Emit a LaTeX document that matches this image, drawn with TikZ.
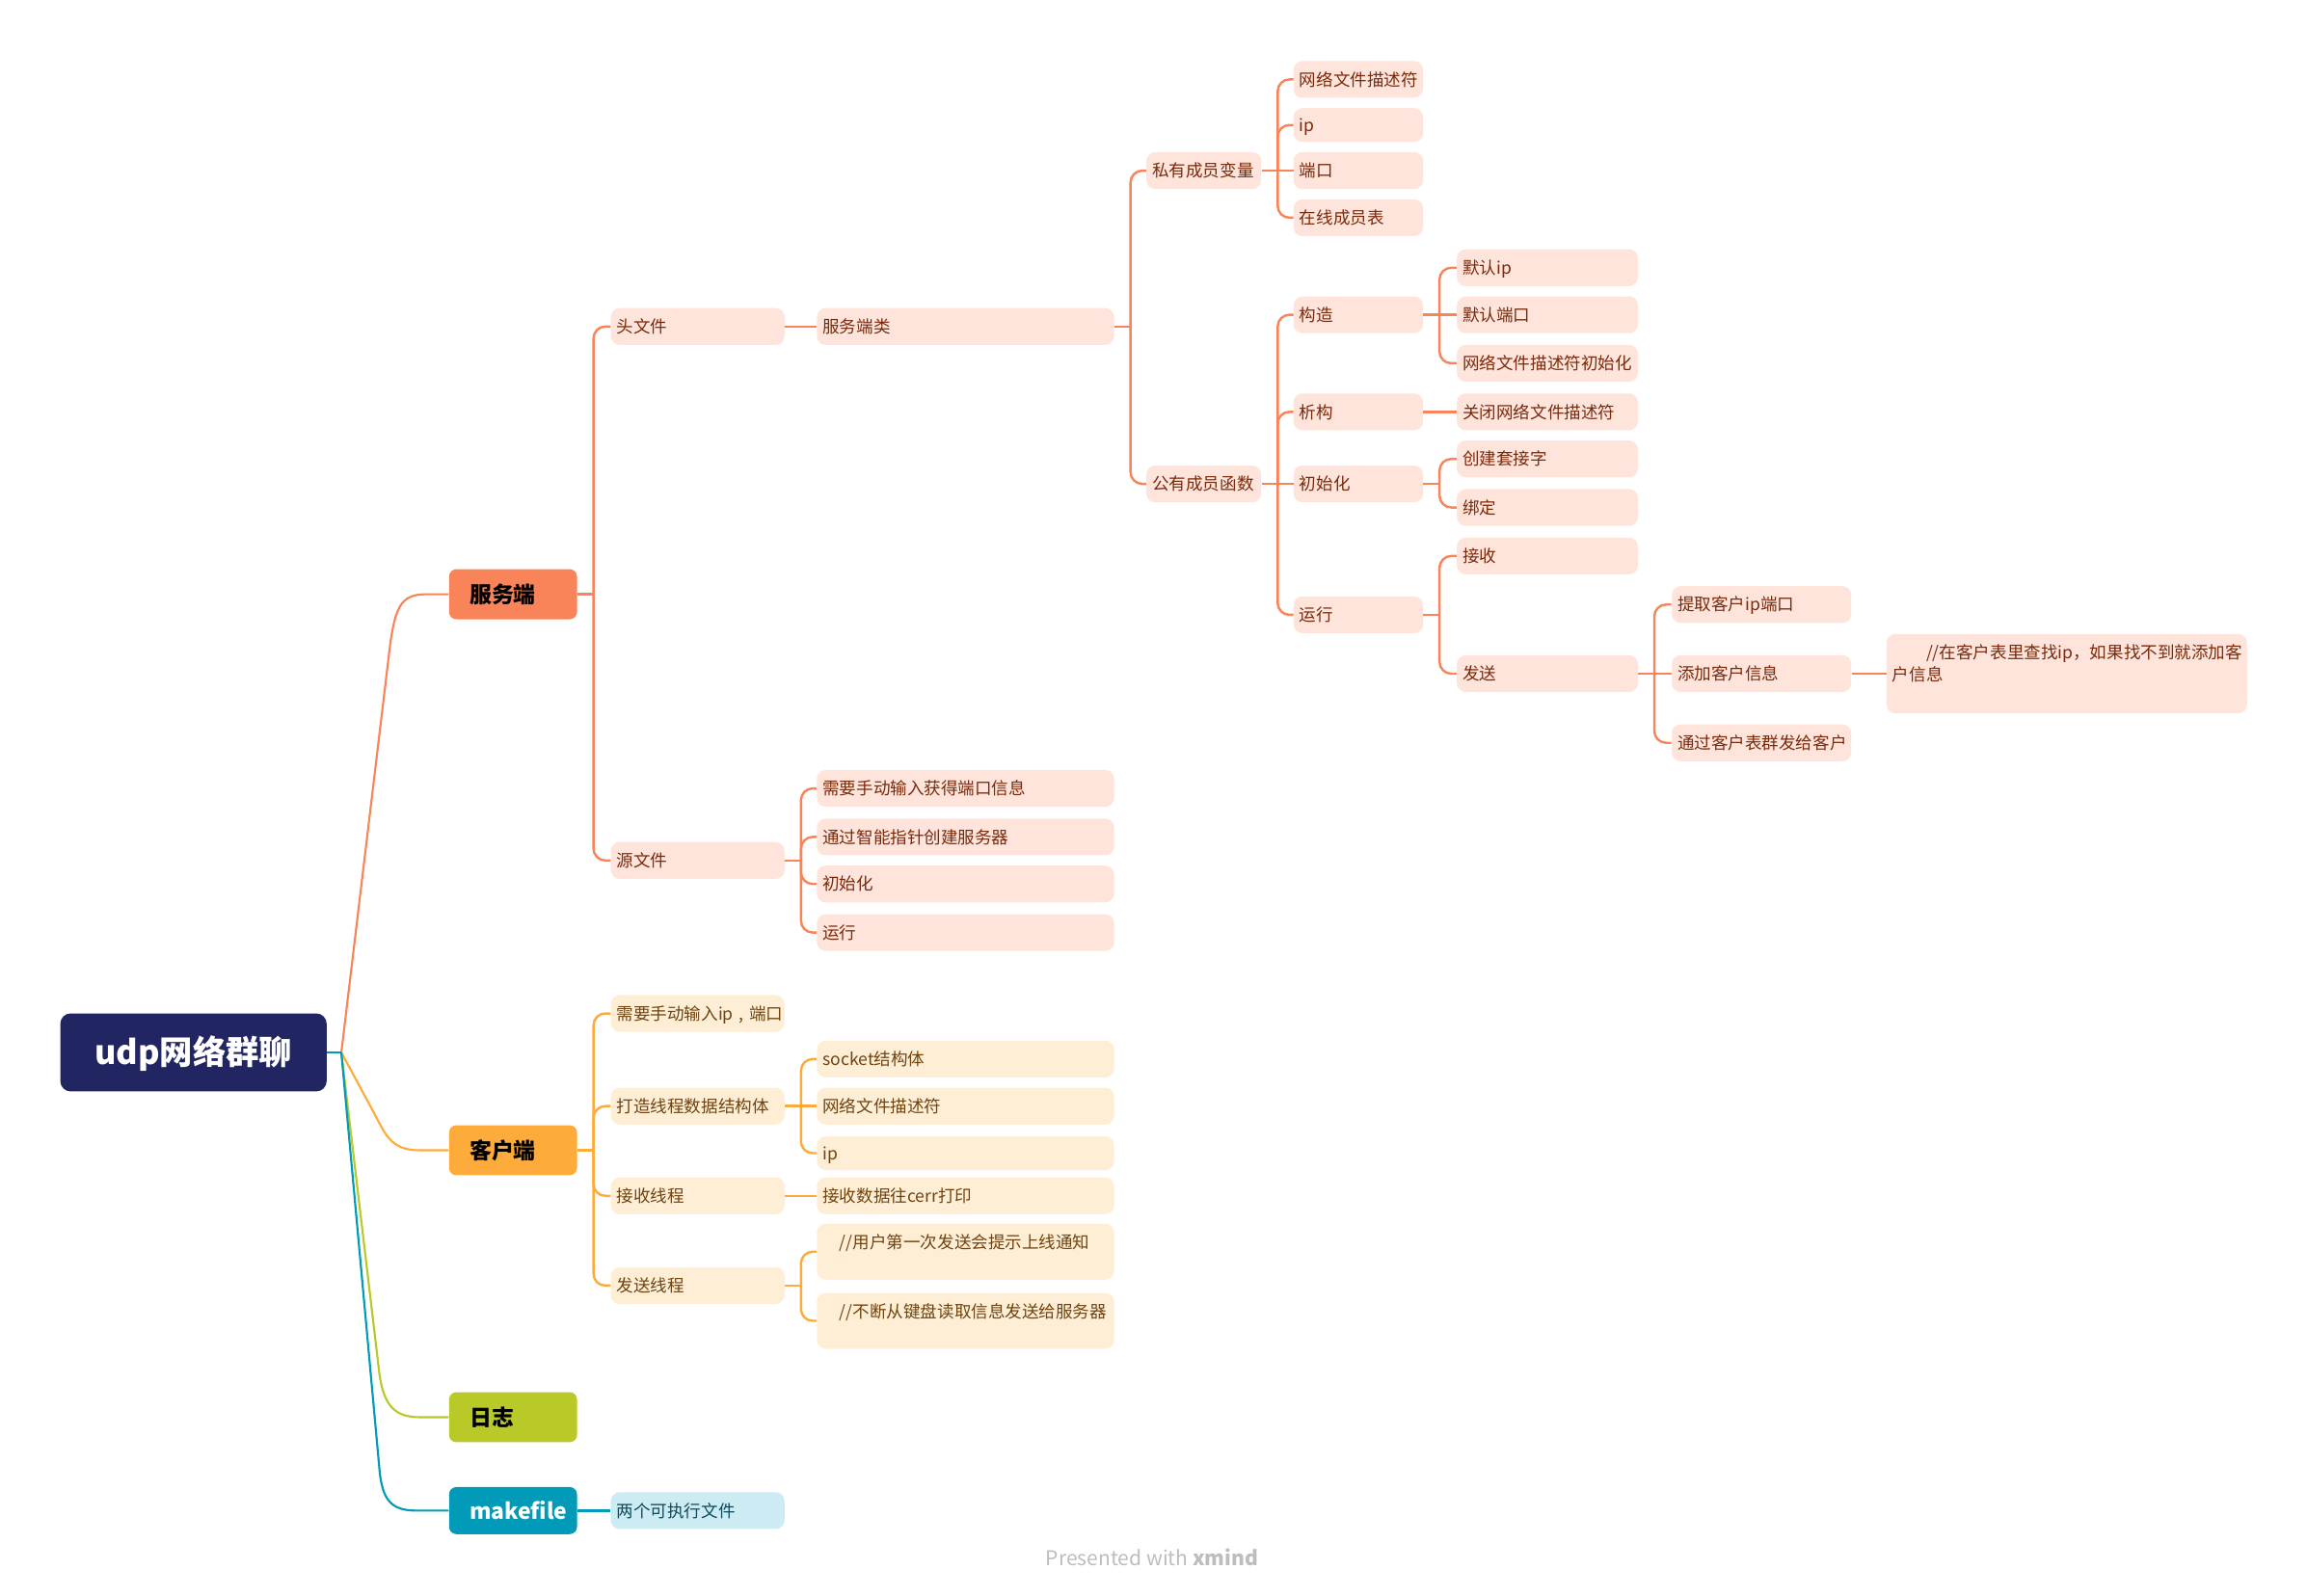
\documentclass[tikz,border=0pt]{standalone}
\usepackage{fontspec}
\setmainfont{Noto Sans CJK SC}
\usetikzlibrary{calc}
\definecolor{rootc}{HTML}{212562}
\definecolor{srv}{HTML}{F9845A}
\definecolor{cli}{HTML}{FDAB3B}
\definecolor{logc}{HTML}{B8C928}
\definecolor{mkc}{HTML}{019AB9}
\definecolor{srvfill}{HTML}{FEE4DA}
\definecolor{srvtext}{HTML}{7A2A0C}
\definecolor{clifill}{HTML}{FFEED6}
\definecolor{clitext}{HTML}{6E4410}
\definecolor{mkfill}{HTML}{CCEBF3}
\definecolor{mktext}{HTML}{0B4C5C}
\definecolor{wmark}{HTML}{BDBDBD}
\tikzset{
  leafbase/.style={anchor=west, rounded corners=6pt, inner xsep=4pt, inner ysep=0pt,
    minimum height=25pt, align=left, font=\fontsize{11.5}{15}\selectfont},
  leaf/.style={leafbase, text height=10pt, text depth=1.2pt},
  tw/.style={text width=#1},
  sl/.style={leaf, fill=srvfill, text=srvtext},
  cl/.style={leaf, fill=clifill, text=clitext},
  ml/.style={leaf, fill=mkfill, text=mktext},
  slbox/.style={leafbase, fill=srvfill, text=srvtext},
  clbox/.style={leafbase, fill=clifill, text=clitext},
  mainnode/.style={anchor=west, rounded corners=5pt, minimum height=34pt, inner xsep=14pt,
    inner ysep=0pt, text width=59pt, align=left, text height=13pt, text depth=1.6pt,
    font=\fontsize{15}{18}\bfseries\selectfont},
  rootnode/.style={fill=rootc, text=white, rounded corners=7pt, minimum width=181pt,
    minimum height=53pt, inner sep=0pt, text height=19pt, text depth=2pt,
    font=\fontsize{22.5}{27}\bfseries\selectfont},
  sline/.style={draw=srv, line width=1.6pt},
  cline/.style={draw=cli, line width=1.6pt},
  mline/.style={draw=mkc, line width=1.6pt},
  rlink/.style={line width=1.4pt},
}
\newcommand\mmstub[2]{\draw[#1] (#2.east) -- ++(11,0);}
\newcommand\mmlink[3]{\draw[#1, rounded corners=8pt] ($(#2.east)+(11,0)$) |- (#3.west);}
\newcommand\mmstraight[3]{\draw[#1] (#2.east) -- (#3.west);}
\begin{document}
\begin{tikzpicture}[x=1pt,y=-1pt]
\fill[white] (0,0) rectangle (1568,1085);
\useasboundingbox (0,0) rectangle (1568,1085);

% root and main branches
\node[rootnode] (root) at (131.5,715.5) {udp网络群聊};
\node[mainnode, fill=srv, text=black] (fws) at (305,404) {服务端};
\node[mainnode, fill=cli, text=black] (kh) at (305,782) {客户端};
\node[mainnode, fill=logc, text=black] (log) at (305,963.5) {日志};
\node[mainnode, fill=mkc, text=white, minimum height=32pt] (mk) at (305,1027) {makefile};

% server tree
\node[sl, tw=110pt] (h1) at (415,222) {头文件};
\node[sl, tw=110pt] (src) at (415,585) {源文件};
\node[sl, tw=194pt] (cls) at (555,222) {服务端类};
\node[sl, tw=194pt] (s1) at (555,536) {需要手动输入获得端口信息};
\node[sl, tw=194pt] (s2) at (555,569) {通过智能指针创建服务器};
\node[sl, tw=194pt] (s3) at (555,601) {初始化};
\node[sl, tw=194pt] (s4) at (555,634) {运行};
\node[sl, tw=70pt] (priv) at (779,116) {私有成员变量};
\node[sl, tw=70pt] (pub) at (779,329) {公有成员函数};
\node[sl, tw=80pt] (p1) at (879,54) {网络文件描述符};
\node[sl, tw=80pt, minimum height=23pt] (p2) at (879,85) {ip};
\node[sl, tw=80pt] (p3) at (879,116) {端口};
\node[sl, tw=80pt] (p4) at (879,148) {在线成员表};
\node[sl, tw=80pt] (f1) at (879,214) {构造};
\node[sl, tw=80pt] (f2) at (879,280) {析构};
\node[sl, tw=80pt] (f3) at (879,329) {初始化};
\node[sl, tw=80pt] (f4) at (879,418) {运行};
\node[sl, tw=115pt] (c1) at (990,182) {默认ip};
\node[sl, tw=115pt] (c2) at (990,214) {默认端口};
\node[sl, tw=115pt] (c3) at (990,247) {网络文件描述符初始化};
\node[sl, tw=115pt] (d1) at (990,280) {关闭网络文件描述符};
\node[sl, tw=115pt] (i1) at (990,312) {创建套接字};
\node[sl, tw=115pt] (i2) at (990,345) {绑定};
\node[sl, tw=115pt] (r1) at (990,378) {接收};
\node[sl, tw=115pt] (r2) at (990,458) {发送};
\node[sl, tw=114pt] (t1) at (1136,411) {提取客户ip端口};
\node[sl, tw=114pt] (t2) at (1136,458) {添加客户信息};
\node[sl, tw=114pt] (t3) at (1136,505) {通过客户表群发给客户};
\node[slbox, minimum height=54pt] (cm) at (1282,458)
  {\parbox[c][40pt][t]{237pt}{\hspace*{2em}//在客户表里查找ip，如果找不到就添加客\\户信息}};

% client tree
\node[cl, tw=110pt] (k1) at (415,689) {\mbox{需要手动输入ip , 端口}};
\node[cl, tw=110pt] (k2) at (415,752) {打造线程数据结构体};
\node[cl, tw=110pt] (k3) at (415,813) {接收线程};
\node[cl, tw=110pt] (k4) at (415,874) {发送线程};
\node[cl, tw=194pt] (q1) at (555,720) {socket结构体};
\node[cl, tw=194pt] (q2) at (555,752) {网络文件描述符};
\node[cl, tw=194pt, minimum height=23pt] (q3) at (555,784) {ip};
\node[cl, tw=194pt] (q4) at (555,813) {接收数据往cerr打印};
\node[clbox, minimum height=38pt] (q5) at (555,851)
  {\parbox[c][24pt][t]{194pt}{\hspace*{1em}//用户第一次发送会提示上线通知}};
\node[clbox, minimum height=38pt] (q6) at (555,898)
  {\parbox[c][24pt][t]{194pt}{\hspace*{1em}//不断从键盘读取信息发送给服务器}};

% makefile
\node[ml, tw=110pt] (mk1) at (415,1027) {两个可执行文件};

% watermark
\node[text=wmark, font=\fontsize{13.8}{16}\selectfont] (wm) at (783,1059) {Presented with \textbf{xmind}};

% root connectors
\coordinate (rj) at (232,715.5);
\draw[rlink, srv] (rj) -- (264,448) .. controls (268,412) and (272,404) .. (290,404) -- (fws.west);
\draw[rlink, cli] (rj) -- (256,760) .. controls (263,774) and (268,782) .. (285,782) -- (kh.west);
\draw[rlink, logc] (rj) -- (258,935) .. controls (261,955) and (268,963.5) .. (285,963.5) -- (log.west);
\draw[rlink, mkc] (rj) -- (258,1000) .. controls (260,1020) and (266,1027) .. (283,1027) -- (mk.west);
\draw[rlink, mkc] (root.east) -- (rj);

% server connectors
\mmstub{sline}{fws}
\mmlink{sline}{fws}{h1}
\mmlink{sline}{fws}{src}
\mmstraight{sline}{h1}{cls}
\mmstub{sline}{cls}
\mmlink{sline}{cls}{priv}
\mmlink{sline}{cls}{pub}
\mmstub{sline}{priv}
\mmlink{sline}{priv}{p1}
\mmlink{sline}{priv}{p2}
\mmlink{sline}{priv}{p4}
\mmstraight{sline}{priv}{p3}
\mmstub{sline}{pub}
\mmlink{sline}{pub}{f1}
\mmlink{sline}{pub}{f2}
\mmlink{sline}{pub}{f4}
\mmstraight{sline}{pub}{f3}
\mmstub{sline}{f1}
\mmlink{sline}{f1}{c1}
\mmlink{sline}{f1}{c3}
\mmstraight{sline}{f1}{c2}
\mmstraight{sline}{f2}{d1}
\mmstub{sline}{f3}
\mmlink{sline}{f3}{i1}
\mmlink{sline}{f3}{i2}
\mmstub{sline}{f4}
\mmlink{sline}{f4}{r1}
\mmlink{sline}{f4}{r2}
\mmstub{sline}{r2}
\mmlink{sline}{r2}{t1}
\mmlink{sline}{r2}{t3}
\mmstraight{sline}{r2}{t2}
\mmstraight{sline}{t2}{cm}
\mmstub{sline}{src}
\mmlink{sline}{src}{s1}
\mmlink{sline}{src}{s2}
\mmlink{sline}{src}{s3}
\mmlink{sline}{src}{s4}

% client connectors
\mmstub{cline}{kh}
\mmlink{cline}{kh}{k1}
\mmlink{cline}{kh}{k2}
\mmlink{cline}{kh}{k3}
\mmlink{cline}{kh}{k4}
\mmstub{cline}{k2}
\mmlink{cline}{k2}{q1}
\mmlink{cline}{k2}{q3}
\mmstraight{cline}{k2}{q2}
\mmstraight{cline}{k3}{q4}
\mmstub{cline}{k4}
\mmlink{cline}{k4}{q5}
\mmlink{cline}{k4}{q6}

% makefile connector
\mmstraight{mline}{mk}{mk1}
\end{tikzpicture}
\end{document}
